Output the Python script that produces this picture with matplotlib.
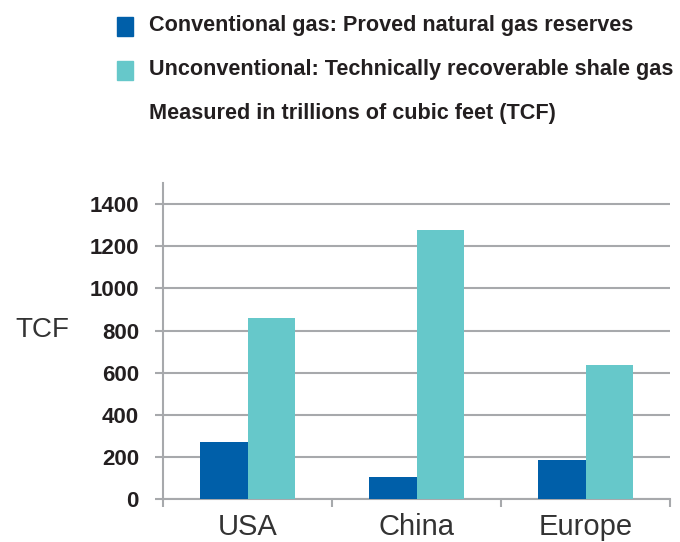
import matplotlib
matplotlib.use("Agg")
import matplotlib.pyplot as plt
from matplotlib.patches import Rectangle
import numpy as np

categories = ["USA", "China", "Europe"]
conventional = [270, 107, 185]
shale = [862, 1275, 639]
series_labels = ["Conventional gas: Proved natural gas reserves",
                 "Unconventional: Technically recoverable shale gas"]
subtitle = "Measured in trillions of cubic feet (TCF)"
y_ticks = [0, 200, 400, 600, 800, 1000, 1200, 1400]
y_label = "TCF"
colors = ["#005FA9", "#66C8CA"]

plt.rcParams['font.family'] = ['Liberation Sans', 'DejaVu Sans']

W, H = 680, 542
fig = plt.figure(figsize=(W/100, H/100), dpi=100)
ax = fig.add_axes([163/W, (H-499.3)/H, (670-163)/W, (499.3-183)/H])

x = np.arange(len(categories))
bw = 0.284
ax.bar(x - bw/2, conventional, width=bw, color=colors[0], zorder=3)
ax.bar(x + bw/2, shale, width=bw, color=colors[1], zorder=3)

ax.set_xlim(-0.5, len(categories) - 0.5)
ax.set_ylim(0, 1500)
ax.set_yticks(y_ticks)
ax.set_yticklabels([str(v) for v in y_ticks], fontsize=16, fontweight='bold', color='#231F20')
ax.yaxis.grid(True, color='#A7A9AC', linewidth=1.5, zorder=0)
ax.tick_params(axis='y', length=5.8, width=1.5, color='#A7A9AC', pad=11.5)

ax.set_xticks(x)
ax.set_xticklabels(categories, fontsize=21, color='#333333')
ax.tick_params(axis='x', which='major', length=0, pad=10)
ax.set_xticks(np.arange(-0.5, len(categories), 1.0), minor=True)
ax.tick_params(axis='x', which='minor', length=5.8, width=1.5, color='#A7A9AC')

for s in ['top', 'right']:
    ax.spines[s].set_visible(False)
ax.spines['left'].set_color('#A7A9AC')
ax.spines['left'].set_linewidth(1.5)
ax.spines['bottom'].set_color('#A7A9AC')
ax.spines['bottom'].set_linewidth(1.5)

fig.text(42/W, 1 - 330/H, y_label, fontsize=20, color='#333333', ha='center', va='center')

# legend
leg_y = [26, 70]
for i, lab in enumerate(series_labels):
    fig.patches.append(Rectangle((117/W, 1 - (leg_y[i] + 9.5)/H), 16/W, 19/H,
                                 transform=fig.transFigure, color=colors[i]))
    fig.text(149/W, 1 - leg_y[i]/H, lab, fontsize=15.6, fontweight='bold',
             color='#231F20', ha='left', va='center')
fig.text(149/W, 1 - 114/H, subtitle, fontsize=15.6, fontweight='bold',
         color='#231F20', ha='left', va='center')

fig.savefig("out.png", dpi=100)
